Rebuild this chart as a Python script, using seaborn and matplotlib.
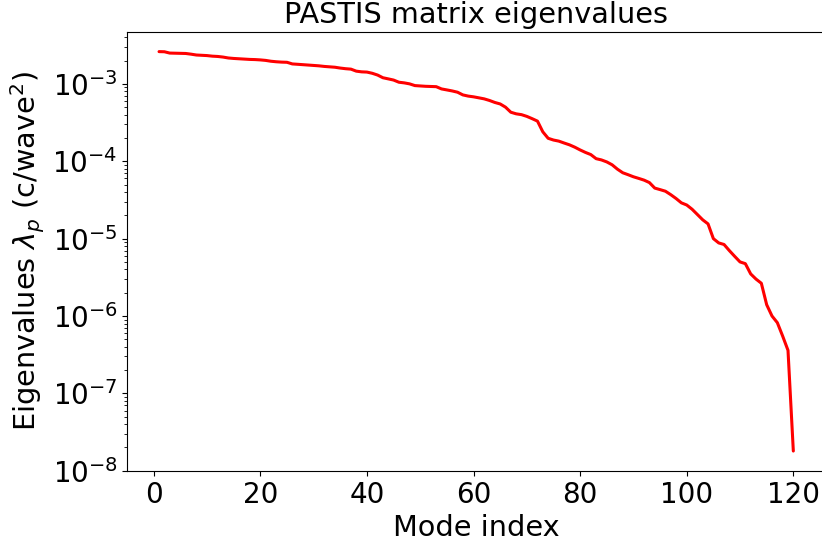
import numpy as np
import matplotlib
matplotlib.use("Agg")
import matplotlib.pyplot as plt
import seaborn as sns

# mode index and eigenvalue
modes = list(range(1, 121))
eigenvalues = [
    2.61e-3, 2.60e-3, 2.50e-3, 2.49e-3, 2.48e-3, 2.47e-3, 2.42e-3, 2.36e-3, 2.34e-3, 2.32e-3,
    2.28e-3, 2.26e-3, 2.22e-3, 2.16e-3, 2.13e-3, 2.11e-3, 2.09e-3, 2.07e-3, 2.06e-3, 2.04e-3,
    2.01e-3, 1.96e-3, 1.93e-3, 1.91e-3, 1.90e-3, 1.81e-3, 1.79e-3, 1.77e-3, 1.75e-3, 1.73e-3,
    1.71e-3, 1.68e-3, 1.66e-3, 1.64e-3, 1.60e-3, 1.57e-3, 1.55e-3, 1.46e-3, 1.43e-3, 1.42e-3,
    1.37e-3, 1.30e-3, 1.20e-3, 1.16e-3, 1.12e-3, 1.05e-3, 1.03e-3, 1.00e-3, 9.5e-4, 9.4e-4,
    9.3e-4, 9.25e-4, 9.2e-4, 8.6e-4, 8.35e-4, 8.1e-4, 7.8e-4, 7.2e-4, 6.95e-4, 6.8e-4,
    6.6e-4, 6.4e-4, 6.1e-4, 5.75e-4, 5.5e-4, 5.0e-4, 4.3e-4, 4.1e-4, 4.0e-4, 3.8e-4,
    3.55e-4, 3.3e-4, 2.4e-4, 1.98e-4, 1.88e-4, 1.82e-4, 1.72e-4, 1.63e-4, 1.52e-4, 1.4e-4,
    1.3e-4, 1.22e-4, 1.08e-4, 1.04e-4, 9.8e-5, 9.0e-5, 7.9e-5, 7.1e-5, 6.7e-5, 6.3e-5,
    6.0e-5, 5.7e-5, 5.3e-5, 4.5e-5, 4.3e-5, 4.1e-5, 3.7e-5, 3.3e-5, 2.9e-5, 2.72e-5,
    2.4e-5, 2.05e-5, 1.75e-5, 1.55e-5, 1.0e-5, 8.8e-6, 8.4e-6, 7.0e-6, 5.9e-6, 5.0e-6,
    4.75e-6, 3.5e-6, 3.0e-6, 2.65e-6, 1.4e-6, 1.0e-6, 8.2e-7, 5.5e-7, 3.6e-7, 1.8e-8,
]
x_ticks = [0, 20, 40, 60, 80, 100, 120]


def plot_eigenvalues():
    sns.set_style("ticks")
    plt.rcParams.update({
        "font.family": ["DejaVu Sans"],
        "text.color": "black",
        "axes.labelcolor": "black",
        "axes.edgecolor": "black",
        "xtick.color": "black",
        "ytick.color": "black",
        "xtick.major.size": 3.5,
        "ytick.major.size": 3.5,
        "ytick.minor.size": 2,
        "axes.linewidth": 0.8,
    })

    fig = plt.figure(figsize=(8.22, 5.42), dpi=100)
    ax = fig.add_axes([0.1549, 0.131, 0.8488, 0.8106])

    sns.lineplot(x=modes, y=eigenvalues, color="red", linewidth=2.2, ax=ax)
    ax.set_yscale("log")
    ax.set_xticks(x_ticks)

    ax.set_title("PASTIS matrix eigenvalues", fontsize=20.7)
    ax.set_xlabel("Mode index", fontsize=20.7)
    ax.set_ylabel(r"Eigenvalues $\lambda_p$ (c/wave$^2$)", fontsize=20.7)
    ax.tick_params(axis="both", which="major", labelsize=20)

    fig.savefig("out.png", dpi=100)


if __name__ == "__main__":
    plot_eigenvalues()
